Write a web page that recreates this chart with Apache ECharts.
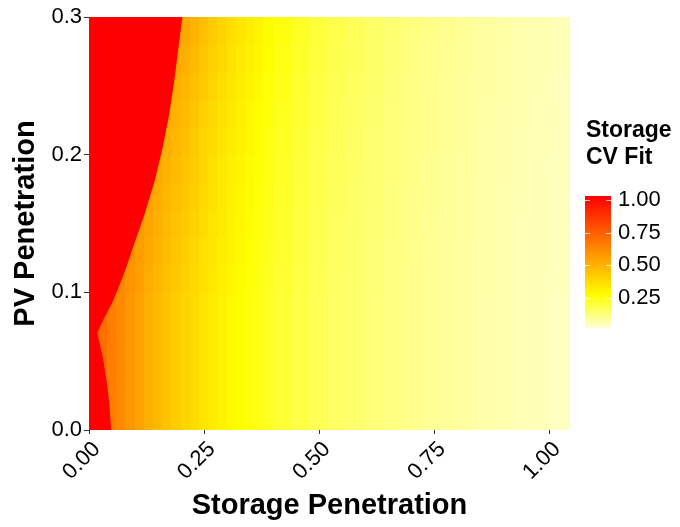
<!DOCTYPE html>
<html><head><meta charset="utf-8">
<script src="https://cdn.jsdelivr.net/npm/echarts@6/dist/echarts.min.js"></script>
<style>html,body{margin:0;padding:0;background:#fff}#chart{width:680px;height:527px}</style>
</head><body><div id="chart"></div>
<script>
// Storage penetration bin edges (x) and PV penetration bin edges (y)
const xEdges = [0,0.02,0.04,0.06,0.08,0.10,0.12,0.14,0.16,0.18,0.20,0.22,0.24,0.26,0.28,0.30,0.32,0.34,0.36,0.38,0.40,
                0.44,0.48,0.52,0.56,0.60,0.64,0.68,0.72,0.76,0.80,0.84,0.88,0.92,0.96,1.00,1.045];
const yEdges = [0,0.02,0.04,0.06,0.08,0.10,0.12,0.14,0.16,0.18,0.20,0.22,0.24,0.26,0.28,0.30];
const R = 1.03; // clipped at top of the scale (red)
// Storage CV Fit, one row per PV bin (bottom to top), one value per storage bin
const cvFit = [
 [R,R,0.66,0.62,0.58,0.545,0.51,0.48,0.45,0.425,0.40,0.375,0.35,0.33,0.31,0.29,0.275,0.26,0.245,0.23,0.21,0.19,0.17,0.155,0.142,0.13,0.118,0.107,0.097,0.088,0.080,0.072,0.065,0.058,0.052,0.046],
 [R,0.70,0.66,0.62,0.58,0.545,0.51,0.48,0.45,0.425,0.40,0.375,0.35,0.33,0.31,0.29,0.275,0.26,0.245,0.23,0.21,0.19,0.17,0.155,0.142,0.13,0.118,0.107,0.097,0.088,0.080,0.072,0.065,0.058,0.052,0.046],
 [R,0.70,0.66,0.62,0.58,0.545,0.51,0.48,0.45,0.425,0.40,0.375,0.35,0.33,0.31,0.29,0.275,0.26,0.245,0.23,0.21,0.19,0.17,0.155,0.142,0.13,0.118,0.107,0.097,0.088,0.080,0.072,0.065,0.058,0.052,0.046],
 [0.74,0.70,0.66,0.62,0.58,0.545,0.51,0.48,0.45,0.425,0.40,0.375,0.35,0.33,0.31,0.29,0.275,0.26,0.245,0.23,0.21,0.19,0.17,0.155,0.142,0.13,0.118,0.107,0.097,0.088,0.080,0.072,0.065,0.058,0.052,0.046],
 [R,0.70,0.66,0.62,0.58,0.545,0.51,0.48,0.45,0.425,0.40,0.375,0.35,0.33,0.31,0.29,0.275,0.26,0.245,0.23,0.21,0.19,0.17,0.155,0.142,0.13,0.118,0.107,0.097,0.088,0.080,0.072,0.065,0.058,0.052,0.046],
 [R,R,0.67,0.63,0.59,0.555,0.52,0.49,0.46,0.435,0.41,0.385,0.359,0.338,0.317,0.296,0.281,0.265,0.25,0.234,0.214,0.193,0.173,0.157,0.144,0.132,0.12,0.108,0.098,0.089,0.081,0.073,0.066,0.059,0.053,0.047],
 [R,R,R,R,0.60,0.565,0.53,0.50,0.47,0.445,0.42,0.394,0.367,0.346,0.324,0.302,0.286,0.27,0.254,0.238,0.217,0.196,0.175,0.159,0.146,0.133,0.121,0.11,0.099,0.09,0.082,0.074,0.067,0.06,0.054,0.048],
 [R,R,R,R,R,0.575,0.54,0.51,0.48,0.455,0.43,0.404,0.376,0.353,0.331,0.309,0.292,0.275,0.259,0.242,0.221,0.199,0.178,0.162,0.148,0.135,0.123,0.111,0.1,0.091,0.083,0.075,0.068,0.06,0.054,0.048],
 [R,R,R,R,R,R,0.55,0.52,0.49,0.465,0.44,0.413,0.384,0.361,0.338,0.315,0.297,0.28,0.263,0.246,0.224,0.202,0.18,0.164,0.15,0.137,0.124,0.112,0.102,0.092,0.084,0.076,0.069,0.061,0.055,0.049],
 [R,R,R,R,R,R,R,0.53,0.50,0.475,0.45,0.423,0.393,0.369,0.345,0.321,0.303,0.285,0.268,0.25,0.228,0.205,0.183,0.166,0.152,0.139,0.126,0.114,0.103,0.094,0.085,0.077,0.07,0.062,0.056,0.05],
 [R,R,R,R,R,R,R,0.54,0.51,0.485,0.46,0.432,0.401,0.377,0.352,0.327,0.308,0.29,0.272,0.254,0.232,0.208,0.186,0.168,0.153,0.14,0.127,0.115,0.104,0.095,0.086,0.077,0.07,0.063,0.057,0.051],
 [R,R,R,R,R,R,R,R,0.525,0.50,0.475,0.446,0.414,0.389,0.363,0.337,0.316,0.298,0.279,0.26,0.237,0.213,0.19,0.172,0.156,0.143,0.129,0.117,0.106,0.096,0.088,0.079,0.072,0.064,0.058,0.052],
 [R,R,R,R,R,R,R,R,R,0.515,0.49,0.46,0.427,0.40,0.373,0.346,0.325,0.305,0.286,0.266,0.242,0.217,0.193,0.175,0.159,0.145,0.132,0.119,0.108,0.098,0.089,0.08,0.073,0.065,0.059,0.053],
 [R,R,R,R,R,R,R,R,R,0.535,0.51,0.48,0.444,0.416,0.387,0.358,0.336,0.315,0.295,0.274,0.25,0.223,0.199,0.179,0.163,0.149,0.135,0.121,0.11,0.1,0.091,0.082,0.075,0.067,0.061,0.055],
 [R,R,R,R,R,R,R,R,R,0.555,0.53,0.50,0.46,0.431,0.401,0.371,0.347,0.325,0.304,0.282,0.257,0.229,0.204,0.184,0.167,0.152,0.138,0.124,0.113,0.102,0.093,0.084,0.077,0.068,0.062,0.056]
];
// outline of the region where the fit exceeds the scale (drawn red), [storage, pv]
const redBoundary = [[0,0],[0.048,0],[0.044,0.02],[0.039,0.034],[0.030,0.053],[0.018,0.0705],[0.034,0.082],
  [0.050,0.092],[0.066,0.105],[0.081,0.118],[0.095,0.132],[0.120,0.156],[0.142,0.180],[0.160,0.205],
  [0.174,0.229],[0.185,0.253],[0.194,0.277],[0.203,0.3],[0,0.3]];
const xTicks = [0,0.25,0.5,0.75,1.0];
const yTicks = [0,0.1,0.2,0.3];
const legendTicks = [1.00,0.75,0.50,0.25];
const scaleMin = 0.02, scaleMax = 1.03;
const scaleColors = ['#FFFFD5','#FFFF00','#FFAA00','#FF5500','#FF0000'];

const cells = [];
for (let r = 0; r < cvFit.length; r++) {
  for (let c = 0; c < cvFit[r].length; c++) {
    cells.push([xEdges[c], xEdges[c+1], yEdges[r], yEdges[r+1], cvFit[r][c]]);
  }
}

const FONT = '"Liberation Sans", Arial, Helvetica, sans-serif';
const chart = echarts.init(document.getElementById('chart'), null, {renderer:'canvas'});

// legend geometry
const barX = 585, barW = 26, barTop = 196, barBot = 328;
const valToY = v => barBot - (v - scaleMin) / (scaleMax - scaleMin) * (barBot - barTop);
const legendGraphics = [
  {type:'text', left:586, top:117, style:{text:'Storage\nCV Fit', font:'bold 23px ' + FONT, fill:'#000', lineHeight:27}},
  {type:'rect', shape:{x:barX, y:barTop, width:barW, height:barBot-barTop},
   style:{fill:{type:'linear', x:0, y:1, x2:0, y2:0,
     colorStops: scaleColors.map((col,i)=>({offset:i/(scaleColors.length-1), color:col}))}}}
];
legendTicks.forEach(v => {
  const y = Math.round(valToY(v)) + 0.5;
  legendGraphics.push({type:'line', shape:{x1:barX, y1:y, x2:barX+5, y2:y}, style:{stroke:'rgba(255,255,255,0.8)', lineWidth:1}});
  legendGraphics.push({type:'line', shape:{x1:barX+barW-5, y1:y, x2:barX+barW, y2:y}, style:{stroke:'rgba(255,255,255,0.8)', lineWidth:1}});
  legendGraphics.push({type:'text', x:618, y:valToY(v), style:{text:v.toFixed(2), font:'22px ' + FONT, fill:'#000', verticalAlign:'middle', align:'left'}});
});

chart.setOption({
  animation: false,
  backgroundColor: '#fff',
  grid: {left:89, right:110, top:17, bottom:97, containLabel:false},
  xAxis: {
    type:'value', min:0, max:1.045,
    name:'Storage Penetration', nameLocation:'middle', nameGap:61,
    nameTextStyle:{fontSize:29, fontWeight:'bold', color:'#000', fontFamily:FONT},
    axisLine:{show:false},
    axisTick:{show:true, length:4, lineStyle:{color:'#333'}, customValues:xTicks},
    axisLabel:{customValues:xTicks, formatter:v=>v.toFixed(2), rotate:45, align:'right', verticalAlign:'top',
      fontSize:22, color:'#000', fontFamily:FONT, margin:8},
    splitLine:{show:false}
  },
  yAxis: {
    type:'value', min:0, max:0.3,
    name:'PV Penetration', nameLocation:'middle', nameGap:48,
    nameTextStyle:{fontSize:29, fontWeight:'bold', color:'#000', fontFamily:FONT},
    axisLine:{show:false},
    axisTick:{show:true, length:5, lineStyle:{color:'#333'}, customValues:yTicks},
    axisLabel:{customValues:yTicks, formatter:v=>v.toFixed(1), fontSize:22, color:'#000', fontFamily:FONT, margin:7},
    splitLine:{show:false}
  },
  visualMap: {type:'continuous', show:false, min:scaleMin, max:scaleMax, dimension:4, seriesIndex:0,
    inRange:{color:scaleColors}},
  graphic: legendGraphics,
  series: [
    {
      type:'custom', coordinateSystem:'cartesian2d', silent:true, clip:true,
      dimensions:['x0','x1','y0','y1','cv'],
      encode:{x:[0,1], y:[2,3]},
      data: cells,
      renderItem: function(params, api) {
        const p0 = api.coord([api.value(0), api.value(2)]);
        const p1 = api.coord([api.value(1), api.value(3)]);
        const x = Math.floor(Math.min(p0[0], p1[0]));
        const x2 = Math.ceil(Math.max(p0[0], p1[0]));
        const y = Math.floor(Math.min(p0[1], p1[1]));
        const y2 = Math.ceil(Math.max(p0[1], p1[1]));
        return {type:'rect', shape:{x:x, y:y, width:x2-x, height:y2-y}, style:{fill:api.visual('color')}};
      }
    },
    {
      type:'custom', coordinateSystem:'cartesian2d', silent:true, clip:true, z:3,
      data:[[0,0]],
      renderItem: function(params, api) {
        const pts = redBoundary.map(p => api.coord(p));
        return {type:'polygon', shape:{points:pts}, style:{fill:'#FF0000'}};
      }
    }
  ]
});
</script>
</body></html>
